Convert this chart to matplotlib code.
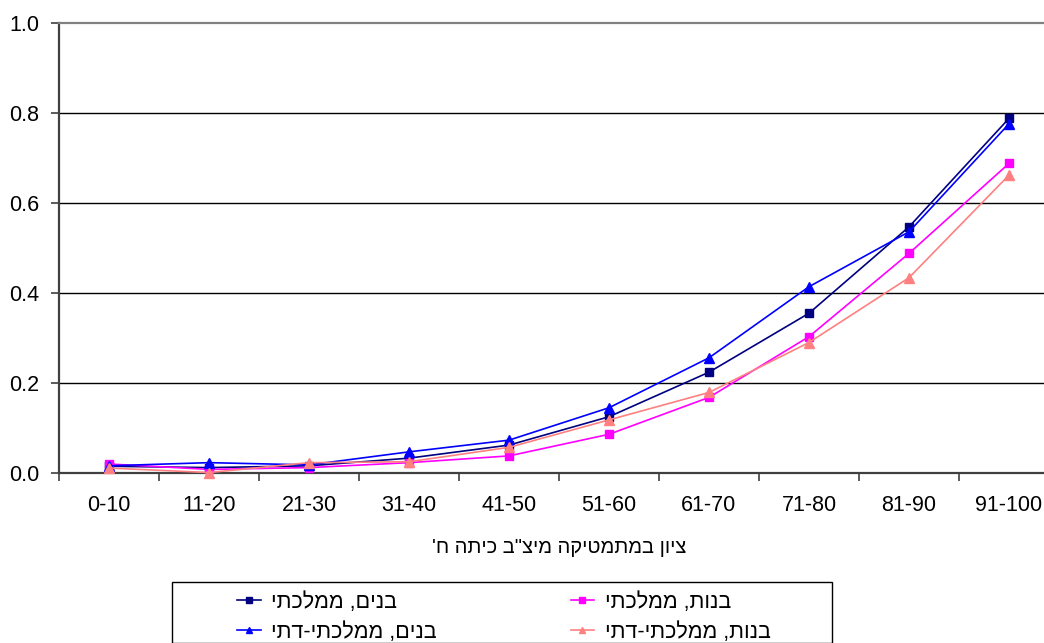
import matplotlib
matplotlib.use("Agg")
import matplotlib.pyplot as plt
from matplotlib.patches import Rectangle

plt.rcParams['font.family'] = ['Liberation Sans', 'DejaVu Sans']

# score bands (x axis)
bands = ['0-10', '11-20', '21-30', '31-40', '41-50',
         '51-60', '61-70', '71-80', '81-90', '91-100']

# share per score band, by group
boys_state = [0.015, 0.012, 0.016, 0.033, 0.062, 0.125, 0.224, 0.355, 0.547, 0.788]
girls_state = [0.020, 0.008, 0.012, 0.023, 0.038, 0.086, 0.168, 0.303, 0.488, 0.688]
boys_relig = [0.016, 0.023, 0.018, 0.047, 0.073, 0.145, 0.256, 0.414, 0.536, 0.776]
girls_relig = [0.011, 0.001, 0.023, 0.025, 0.057, 0.118, 0.179, 0.290, 0.434, 0.662]

names = ['בנים, ממלכתי', 'בנות, ממלכתי', 'בנים, ממלכתי-דתי', 'בנות, ממלכתי-דתי']
xlabel = 'ציון במתמטיקה מיצ"ב כיתה ח\''


def rtl(s):
    # matplotlib lays text out left to right, so flip Hebrew for display
    return s[::-1]


W, H = 1044, 643
fig = plt.figure(figsize=(W / 100, H / 100), dpi=100)
ax = fig.add_axes([59 / W, 170 / H, 1000 / W, 450 / H])

x = range(len(bands))
styles = [
    (boys_state, '#000080', 's', 5.5),
    (girls_state, '#FF00FF', 's', 5.5),
    (boys_relig, '#0000FF', '^', 6.5),
    (girls_relig, '#FF8080', '^', 6.5),
]
lines = []
for (vals, col, mk, ms), name in zip(styles, names):
    ln, = ax.plot(x, vals, color=col, marker=mk, markersize=ms, lw=1.2,
                  label=rtl(name), clip_on=False, zorder=3)
    lines.append(ln)

ax.set_xlim(-0.5, 9.5)
ax.set_ylim(0, 1.0)
ax.set_yticks([0, 0.2, 0.4, 0.6, 0.8, 1.0])
ax.set_yticklabels(['%.1f' % v for v in [0, 0.2, 0.4, 0.6, 0.8, 1.0]])
ax.set_xticks(list(x))
ax.set_xticklabels(bands)
ax.set_xticks([i - 0.5 for i in range(len(bands) + 1)], minor=True)

ax.tick_params(axis='x', which='major', length=0, pad=16, labelsize=15.5)
ax.tick_params(axis='x', which='minor', length=6, width=1.2, color='#404040', direction='out')
ax.tick_params(axis='y', length=6, width=1.2, color='#404040', pad=8, labelsize=15.5)

for y in [0.2, 0.4, 0.6, 0.8]:
    ax.axhline(y, color='black', lw=1, zorder=1)

ax.spines['left'].set_color('#404040')
ax.spines['left'].set_linewidth(1.6)
ax.spines['bottom'].set_color('#404040')
ax.spines['bottom'].set_linewidth(1.6)
ax.spines['top'].set_color('#808080')
ax.spines['top'].set_linewidth(1.6)
ax.spines['right'].set_visible(False)

ax.set_xlabel(rtl(xlabel), fontsize=14.5, labelpad=16)

# legend: two columns, boxed
fig.add_artist(Rectangle((172 / W, 0), 660 / W, (H - 582) / H,
                         transform=fig.transFigure, fill=False,
                         edgecolor='black', lw=1))
fig.legend([lines[0], lines[2], lines[1], lines[3]],
           [rtl(names[0]), rtl(names[2]), rtl(names[1]), rtl(names[3])],
           ncol=2, loc='upper left', bbox_to_anchor=(237 / W, 1 - 592 / H),
           frameon=False, fontsize=15.5, borderpad=0, borderaxespad=0,
           handlelength=1.1, handletextpad=0.5, columnspacing=6.2,
           labelspacing=0.4, markerscale=0.75)

fig.savefig('out.png', dpi=100)
